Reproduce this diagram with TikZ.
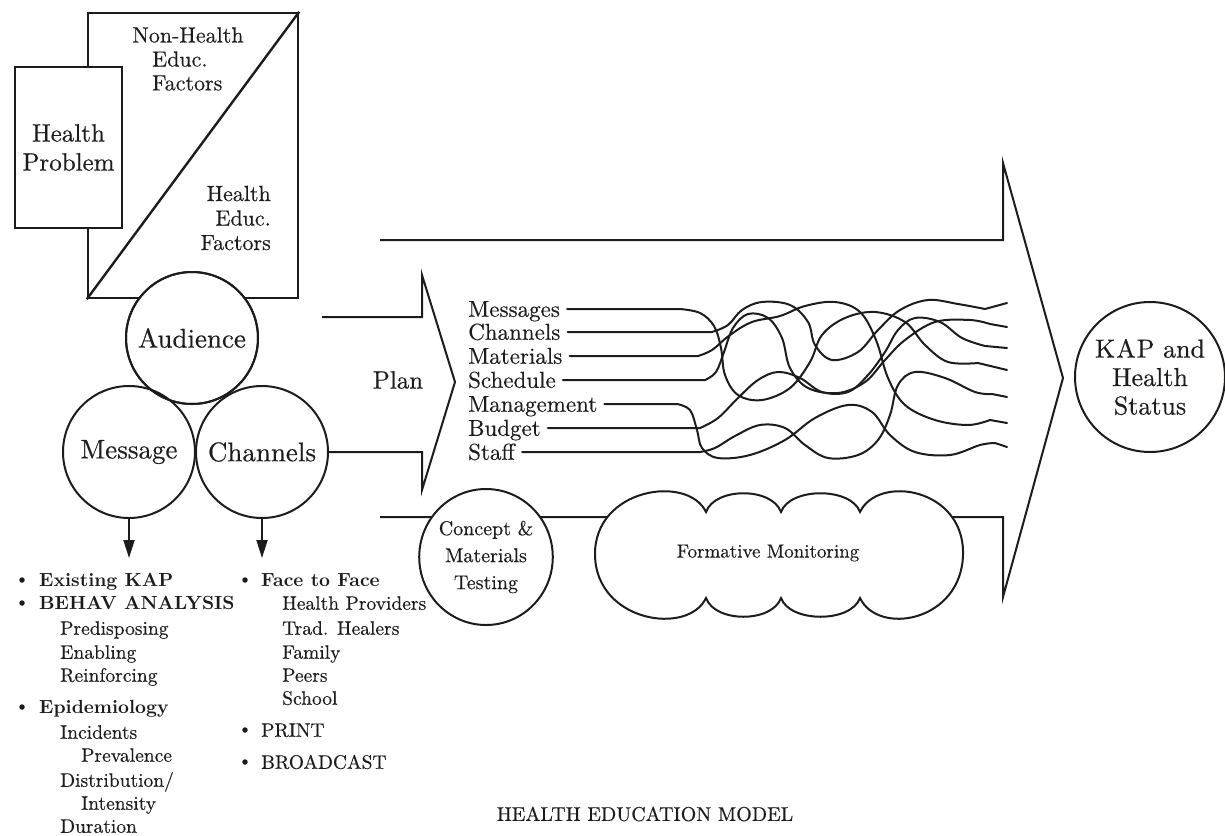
\documentclass[tikz,border=0pt]{standalone}
\usepackage{fontspec}
\setmainfont{lmroman10-regular.otf}[UprightFeatures={FakeBold=0.35}]
\newfontfamily\heavylm{lmroman10-bold.otf}
\usetikzlibrary{arrows.meta,shapes.geometric}
\definecolor{inkc}{RGB}{30,28,26}
\newcommand\fsHuge{\fontsize{27}{29}\selectfont}
\newcommand\fsBig{\fontsize{25}{28}\selectfont}
\newcommand\fsMid{\fontsize{22}{24.5}\selectfont}
\newcommand\fsPlan{\fontsize{23}{24}\selectfont}
\newcommand\fsList{\fontsize{19.5}{24}\selectfont}
\newcommand\fsBold{\heavylm\fontsize{19}{24}\selectfont}
\begin{document}
\begin{tikzpicture}[x=1pt,y=-1pt,
  every node/.style={text=inkc},
  frame/.style={draw=inkc, line width=2.4pt},
  ring/.style={circle, draw=inkc, line width=2pt, inner sep=0pt, align=center},
  edge/.style={draw=inkc, line width=2pt, line join=miter},
  wire/.style={draw=inkc, line width=2pt, line cap=round, line join=round},
  word/.style={inner sep=0pt, anchor=west, text height=13.5pt, text depth=0pt, font=\fsList},
  bword/.style={word, font=\fsBold, text height=13pt},
  pword/.style={word, font=\fsPlan, text height=15.5pt},
  dot/.style={circle, fill=inkc, inner sep=0pt, minimum size=5.5pt},
  down/.style={edge, -{Triangle[length=18pt,width=11pt]}}
]
\useasboundingbox (0,0) rectangle (1225,835);

% ---------- problem analysis block ----------
\node[frame, minimum width=210pt, minimum height=285pt, inner sep=0pt] (sq) at (193,155.5) {};
\draw[frame] (sq.south west) -- (sq.north east);
\node[frame, fill=white, minimum width=107pt, minimum height=161pt, align=center,
      font=\fontsize{25}{29}\selectfont] (hp) at (68.5,147.5) {Health\\Problem};

\node[inner sep=0pt, font=\fsMid] (nh1) at (188,35) {Non-Health};
\node[inner sep=0pt, font=\fsMid, anchor=west] (nh2) at (152,59) {Educ.};
\node[inner sep=0pt, font=\fsMid, anchor=west] (nh3) at (152,83) {Factors};
\node[inner sep=0pt, font=\fsMid, align=right, anchor=east] (he) at (271,218) {Health\\Educ.\\Factors};

% ---------- audience / message / channels ----------
\node[ring, fill=white, minimum size=132pt, font=\fsHuge] (aud) at (192,338) {Audience};
\node[ring, minimum size=132pt, font=\fsHuge] (msg) at (129,452) {Message};
\node[ring, minimum size=132pt, font=\fsHuge] (chan) at (262,452) {Channels};
\draw[ring, fill=none] (aud.center) circle (66pt);

\coordinate (ma) at (129,558);
\coordinate (ca) at (262,558);
\draw[down] (msg.south) -- (ma);
\draw[down] (chan.south) -- (ca);

% ---------- message list ----------
\node[dot] (b1) at (22,580) {};
\node[bword] (l1) at (39,580) {Existing KAP};
\node[dot] (b2) at (22,603) {};
\node[bword] (l2) at (39,603) {BEHAV ANALYSIS};
\node[word] (l3) at (60,628) {Predisposing};
\node[word] (l4) at (60,652) {Enabling};
\node[word] (l5) at (60,675) {Reinforcing};
\node[dot] (b3) at (22,707) {};
\node[bword] (l6) at (39,707) {Epidemiology};
\node[word] (l7) at (60,732) {Incidents};
\node[word] (l8) at (81,755) {Prevalence};
\node[word] (l9) at (60,780) {Distribution/};
\node[word] (l10) at (81,803) {Intensity};
\node[word] (l11) at (60,826) {Duration};

% ---------- channel list ----------
\node[dot] (c1) at (245,580) {};
\node[bword] (r1) at (261,580) {Face to Face};
\node[word] (r2) at (282,603) {Health Providers};
\node[word] (r3) at (282,628) {Trad. Healers};
\node[word] (r4) at (282,652) {Family};
\node[word] (r5) at (282,675) {Peers};
\node[word] (r6) at (282,698) {School};
\node[dot] (c2) at (245,730) {};
\node[word] (r7) at (261,730) {PRINT};
\node[dot] (c3) at (245,762) {};
\node[word] (r8) at (261,762) {BROADCAST};

% ---------- plan arrow ----------
\coordinate (p0) at (322,317);
\draw[edge] (p0) -- (422,317) -- (422,275) -- (455,382) -- (422,490) -- (422,452) -- (chan.east);
\node[inner sep=0pt, font=\fsBig] (plan) at (398,380) {Plan};

% ---------- large outcome arrow ----------
\coordinate (t0) at (380,240);
\coordinate (b0) at (380,517);
\draw[edge] (t0) -- (1003,240) -- (1003,163) -- (1063,378) -- (1003,597) -- (1003,517) -- (b0);

% ---------- plan components ----------
\node[pword] (m1) at (468,309) {Messages};
\node[pword] (m2) at (468,332) {Channels};
\node[pword] (m3) at (468,356) {Materials};
\node[pword] (m4) at (468,380) {Schedule};
\node[pword] (m5) at (468,404) {Management};
\node[pword] (m6) at (468,428) {Budget};
\node[pword] (m7) at (468,452) {Staff};

\coordinate (e1) at (1007,303);
\coordinate (e2) at (1007,327);
\coordinate (e3) at (1007,348);
\coordinate (e4) at (1007,370);
\coordinate (e5) at (1007,397);
\coordinate (e6) at (1007,423);
\coordinate (e7) at (1007,447);

\draw[wire] ([xshift=7pt]m1.east) -- (680,309) -- plot[smooth, tension=0.6] coordinates {
  (680,309) (700,313) (714,326) (721,348) (725,375) (738,395) (762,400) (790,388)
  (810,362) (822,335) (845,318) (875,312) (905,322) (925,345) (948,362) (978,363)} -- (e4);
\draw[wire] ([xshift=7pt]m2.east) -- (712,332) -- plot[smooth, tension=0.6] coordinates {
  (712,332) (728,325) (742,310) (762,302) (790,305) (808,322) (815,345) (832,360)
  (858,352) (878,330) (900,310) (928,300) (958,304) (985,309)} -- (e1);
\draw[wire] ([xshift=7pt]m3.east) -- (698,356) -- plot[smooth, tension=0.6] coordinates {
  (698,356) (712,350) (730,335) (752,322) (780,316) (805,306) (835,302) (860,312)
  (876,340) (888,378) (905,405) (935,420) (968,425) (990,420)} -- (e6);
\draw[wire] ([xshift=7pt]m4.east) -- (705,380) -- plot[smooth, tension=0.6] coordinates {
  (705,380) (716,372) (724,352) (733,328) (748,314) (768,318) (782,338) (790,368)
  (808,388) (838,393) (865,382) (885,360) (905,340) (935,322) (970,320) (990,324)} -- (e2);
\draw[wire] ([xshift=7pt]m5.east) -- (677,404) -- plot[smooth, tension=0.6] coordinates {
  (677,404) (690,410) (697,430) (702,448) (718,458) (750,455) (785,440) (815,418)
  (848,405) (872,412) (890,435) (915,452) (950,455) (980,445) (995,443)} -- (e7);
\draw[wire] ([xshift=7pt]m6.east) -- (700,428) -- plot[smooth, tension=0.6] coordinates {
  (700,428) (718,418) (738,398) (758,380) (778,372) (800,378) (822,392) (848,392)
  (868,375) (885,352) (898,330) (915,318) (940,322) (962,338) (985,346)} -- (e3);
\draw[wire] ([xshift=7pt]m7.east) -- (700,452) -- plot[smooth, tension=0.6] coordinates {
  (700,452) (715,448) (735,436) (760,425) (785,428) (805,445) (828,458) (858,455)
  (878,440) (890,415) (898,385) (915,372) (945,378) (975,392) (992,394)} -- (e5);

% ---------- testing and monitoring ----------
\node[ellipse, draw=inkc, line width=2pt, fill=white, minimum width=110pt, minimum height=136pt,
      inner sep=0pt, align=center, font=\fontsize{20}{27}\selectfont] (cmt) at (486,557)
      {Concept \&\\Materials\\Testing};
\filldraw[fill=white, draw=inkc, line width=2pt]
  (706,512) .. controls (715,487) and (772,487) .. (781,512)
            .. controls (790,487) and (851,487) .. (860,512)
            .. controls (878,474) and (965,488) .. (963,555)
            .. controls (961,622) and (878,636) .. (860,598)
            .. controls (851,623) and (790,623) .. (781,598)
            .. controls (772,623) and (715,623) .. (706,598)
            .. controls (688,636) and (596,622) .. (595,555)
            .. controls (594,488) and (688,474) .. (706,512) -- cycle;
\node[inner sep=0pt, font=\fontsize{19}{24}\selectfont] (fm) at (768,553) {Formative Monitoring};

% ---------- outcome ----------
\node[ring, fill=white, minimum size=150pt, font=\fontsize{26}{28.5}\selectfont] (kap) at (1150,377)
  {K\kern1pt A\kern1pt P and\\Health\\Status};

% ---------- caption ----------
\node[inner sep=0pt, font=\fontsize{20}{24}\selectfont] (title) at (645,814) {HEALTH EDUCATION MODEL};
\end{tikzpicture}
\end{document}
